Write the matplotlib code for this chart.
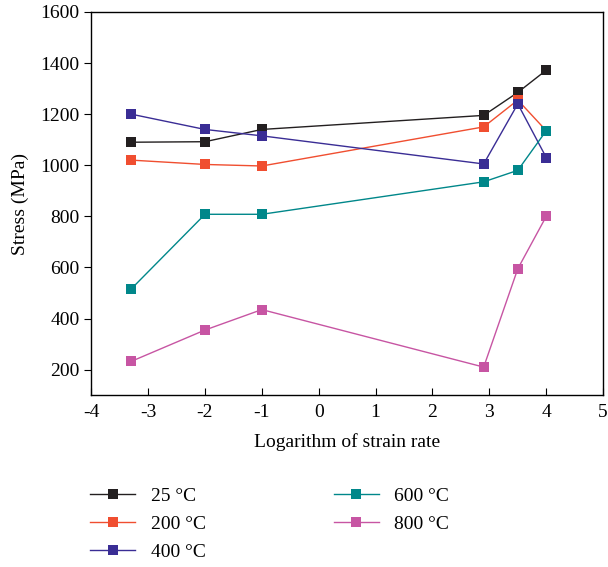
import matplotlib
matplotlib.use("Agg")
import matplotlib.pyplot as plt

plt.rcParams['font.family'] = ['Liberation Serif', 'DejaVu Serif']
plt.rcParams['axes.unicode_minus'] = False

log_rate = [-3.3, -2.0, -1.0, 2.9, 3.5, 4.0]
labels = ["25 °C", "200 °C", "400 °C", "600 °C", "800 °C"]
s25 = [1090, 1092, 1140, 1195, 1285, 1372]
s200 = [1020, 1003, 997, 1150, 1255, 1135]
s400 = [1200, 1140, 1115, 1005, 1240, 1030]
s600 = [515, 808, 808, 935, 980, 1135]
s800 = [232, 355, 435, 210, 595, 800]
colors = ["#231f20", "#f04e30", "#3a2d95", "#00878a", "#c755a3"]

fig = plt.figure(figsize=(6.08, 5.67), dpi=100)
ax = fig.add_axes([0.150, 0.303, 0.842, 0.676])

for ys, lab, c in zip([s25, s200, s400, s600, s800], labels, colors):
    ax.plot(log_rate, ys, color=c, lw=1.0, marker='s', markersize=7.5,
            markeredgewidth=0, label=lab)

ax.set_xlim(-4, 5)
ax.set_ylim(100, 1600)
ax.set_xticks(range(-4, 6))
ax.set_yticks(range(200, 1601, 200))
ax.tick_params(axis='x', direction='in', length=5, labelsize=14, pad=6)
ax.tick_params(axis='y', direction='out', length=5, labelsize=14)
for sp in ax.spines.values():
    sp.set_linewidth(1.0)
ax.set_xlabel("Logarithm of strain rate", fontsize=14, labelpad=9)
ax.set_ylabel("Stress (MPa)", fontsize=14, labelpad=8)

handles, labs = ax.get_legend_handles_labels()
fig.legend(handles, labs, ncol=2, loc='upper left', bbox_to_anchor=(0.12, 0.172),
           frameon=False, fontsize=14, handlelength=2.3, columnspacing=6.6,
           labelspacing=0.55)

fig.savefig("out.png", dpi=100)
